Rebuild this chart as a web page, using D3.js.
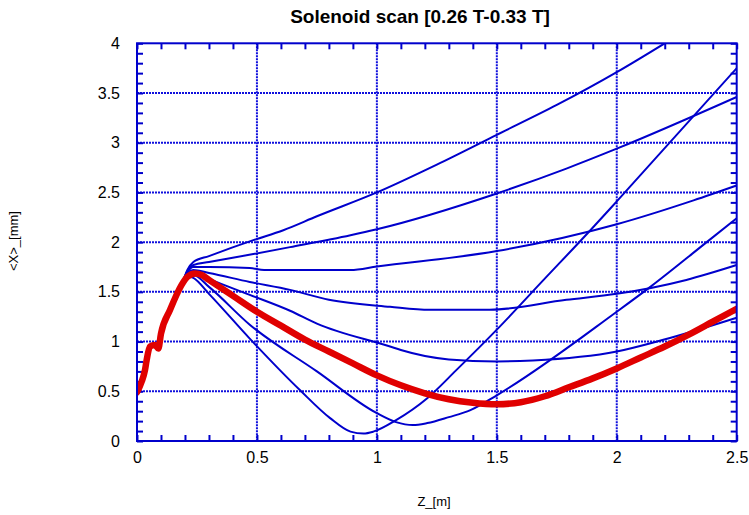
<!DOCTYPE html>
<html>
<head>
<meta charset="utf-8">
<script src="https://cdn.jsdelivr.net/npm/d3@7"></script>
<style>
  html, body { margin: 0; padding: 0; background: #ffffff; }
  svg { display: block; font-family: "Liberation Sans", Arial, sans-serif; }
</style>
</head>
<body>
<div id="chart"></div>
<script>
// --- Data: [z (m), <X> (mm)] ---
const xTicks = [0, 0.5, 1, 1.5, 2, 2.5];
const xTickLabels = ["0", "0.5", "1", "1.5", "2", "2.5"];
const yTicks = [0, 0.5, 1, 1.5, 2, 2.5, 3, 3.5, 4];
const yTickLabels = ["0", "0.5", "1", "1.5", "2", "2.5", "3", "3.5", "4"];

// common rise, shared by every run until the fan-out near z = 0.2
const rise = [[0, 0.49], [0.02, 0.6], [0.033, 0.71], [0.04, 0.81], [0.054, 0.95], [0.075, 0.965],
  [0.089, 0.93], [0.1, 1.08], [0.138, 1.32], [0.186, 1.57]];

const scan1 = [[0.21, 1.72], [0.235, 1.8], [0.3, 1.86], [0.485, 2.02], [0.61, 2.12], [0.75, 2.26],
  [1.0, 2.5], [1.25, 2.78], [1.5, 3.08], [1.75, 3.38], [2.0, 3.71], [2.2, 4.0], [2.3, 4.15]];
const scan2 = [[0.21, 1.71], [0.235, 1.77], [0.3, 1.8], [0.485, 1.88], [0.638, 1.95], [0.89, 2.07],
  [1.0, 2.13], [1.5, 2.49], [1.79, 2.74], [2.0, 2.94], [2.5, 3.46]];
const scan3 = [[0.21, 1.7], [0.235, 1.75], [0.3, 1.75], [0.47, 1.74], [0.53, 1.72], [0.89, 1.72],
  [1.0, 1.755], [1.5, 1.91], [2.0, 2.18], [2.32, 2.42], [2.5, 2.57]];
const scan4 = [[0.21, 1.69], [0.235, 1.72], [0.3, 1.69], [0.47, 1.6], [0.638, 1.52], [0.8, 1.42],
  [1.055, 1.35], [1.22, 1.32], [1.47, 1.32], [1.79, 1.42], [2.0, 1.48], [2.29, 1.62], [2.5, 1.77]];
const scan5 = [[0.21, 1.68], [0.235, 1.7], [0.3, 1.63], [0.47, 1.47], [0.638, 1.31], [0.75, 1.18],
  [1.055, 0.95], [1.1, 0.915], [1.3, 0.82], [1.5, 0.8], [1.65, 0.81], [2.0, 0.9], [2.19, 1.015], [2.5, 1.24]];
const scan6 = [[0.21, 1.67], [0.235, 1.67], [0.3, 1.55], [0.47, 1.17], [0.75, 0.7], [1.0, 0.28],
  [1.08, 0.19], [1.15, 0.16], [1.21, 0.18], [1.3, 0.24], [1.39, 0.31], [1.5, 0.46], [2.0, 1.3],
  [2.14, 1.55], [2.375, 2.0], [2.5, 2.24]];
const scan7 = [[0.21, 1.66], [0.235, 1.64], [0.3, 1.48], [0.47, 1.03], [0.68, 0.51], [0.805, 0.23],
  [0.89, 0.094], [0.944, 0.075], [0.985, 0.094], [1.08, 0.21], [1.21, 0.43], [1.33, 0.71], [1.5, 1.12],
  [1.695, 1.62], [1.89, 2.12], [2.0, 2.41], [2.5, 3.75]];

const measured = [...rise, [0.21, 1.65], [0.242, 1.685], [0.27, 1.67], [0.3, 1.62], [0.4, 1.46],
  [0.5, 1.3], [0.6, 1.16], [0.7, 1.02], [0.8, 0.9], [0.9, 0.78], [1.0, 0.66], [1.1, 0.56], [1.2, 0.48],
  [1.3, 0.42], [1.4, 0.385], [1.5, 0.37], [1.6, 0.39], [1.7, 0.45], [1.8, 0.54], [1.9, 0.63], [2.0, 0.73],
  [2.1, 0.84], [2.2, 0.95], [2.3, 1.07], [2.4, 1.2], [2.5, 1.33]];

const scans = [scan1, scan2, scan3, scan4, scan5, scan6, scan7].map(s => [...rise, ...s]);

// --- Layout ---
const W = 749, H = 515;
const pLeft = 137, pRight = 736.7, pTop = 43.3, pBottom = 441;
const blue = "#0000cc";

const x = d3.scaleLinear().domain([0, 2.5]).range([pLeft, pRight]);
const y = d3.scaleLinear().domain([0, 4]).range([pBottom, pTop]);

const svg = d3.select("#chart").append("svg")
  .attr("width", W)
  .attr("height", H);

svg.append("defs").append("clipPath").attr("id", "plot")
  .append("rect")
  .attr("x", pLeft).attr("y", pTop)
  .attr("width", pRight - pLeft).attr("height", pBottom - pTop);

// --- Dotted grid ---
svg.append("g").selectAll("line")
  .data(xTicks.slice(1, -1))
  .join("line")
  .attr("x1", d => x(d)).attr("x2", d => x(d))
  .attr("y1", pTop).attr("y2", pBottom)
  .attr("stroke", "#1010dd").attr("stroke-width", 2)
  .attr("stroke-dasharray", "2,1");

svg.append("g").selectAll("line")
  .data(yTicks.slice(1, -1))
  .join("line")
  .attr("x1", pLeft).attr("x2", pRight)
  .attr("y1", d => y(d)).attr("y2", d => y(d))
  .attr("stroke", "#1010dd").attr("stroke-width", 2)
  .attr("stroke-dasharray", "2,1");

// --- Minor ticks on all four sides, pointing inwards ---
const minorX = x.ticks(25), minorY = y.ticks(40);
const tickAxes = [
  [d3.axisBottom(x).tickValues(minorX).tickSize(-6), `translate(0,${pBottom})`],
  [d3.axisTop(x).tickValues(minorX).tickSize(-6), `translate(0,${pTop})`],
  [d3.axisLeft(y).tickValues(minorY).tickSize(-6), `translate(${pLeft},0)`],
  [d3.axisRight(y).tickValues(minorY).tickSize(-6), `translate(${pRight},0)`]
];
tickAxes.forEach(([ax, tr]) => {
  const g = svg.append("g").attr("transform", tr)
    .call(ax.tickFormat(() => ""));
  g.select(".domain").remove();
  g.selectAll("line").attr("stroke", blue).attr("stroke-width", 2);
});

// --- Curves ---
const line = d3.line()
  .x(d => x(d[0]))
  .y(d => y(d[1]))
  .curve(d3.curveMonotoneX);

const plot = svg.append("g").attr("clip-path", "url(#plot)");

plot.selectAll(".scan")
  .data(scans)
  .join("path")
  .attr("class", "scan")
  .attr("d", line)
  .attr("fill", "none")
  .attr("stroke", blue)
  .attr("stroke-width", 2);

plot.append("path")
  .datum(measured)
  .attr("d", line)
  .attr("fill", "none")
  .attr("stroke", "#e00000")
  .attr("stroke-width", 6.5)
  .attr("stroke-linecap", "round")
  .attr("stroke-linejoin", "round");

// --- Frame ---
svg.append("rect")
  .attr("x", pLeft).attr("y", pTop)
  .attr("width", pRight - pLeft).attr("height", pBottom - pTop)
  .attr("fill", "none")
  .attr("stroke", blue)
  .attr("stroke-width", 2);

// --- Tick labels ---
const xAxis = svg.append("g")
  .attr("transform", `translate(0,${pBottom})`)
  .call(d3.axisBottom(x).tickValues(xTicks).tickSize(0).tickPadding(11)
    .tickFormat((d, i) => xTickLabels[i]));
xAxis.select(".domain").remove();
xAxis.selectAll("text")
  .style("font-family", "'Liberation Sans', Arial, sans-serif")
  .style("font-size", "16px")
  .attr("fill", "#000");

const yAxis = svg.append("g")
  .attr("transform", `translate(${pLeft},0)`)
  .call(d3.axisLeft(y).tickValues(yTicks).tickSize(0).tickPadding(17)
    .tickFormat((d, i) => yTickLabels[i]));
yAxis.select(".domain").remove();
yAxis.selectAll("text")
  .style("font-family", "'Liberation Sans', Arial, sans-serif")
  .style("font-size", "16px")
  .attr("fill", "#000");

// --- Titles ---
svg.append("text")
  .text("Solenoid scan [0.26 T-0.33 T]")
  .attr("x", 420)
  .attr("y", 23)
  .attr("text-anchor", "middle")
  .style("font-size", "19px")
  .style("font-weight", "bold")
  .attr("fill", "#000");

svg.append("text")
  .text("Z_[m]")
  .attr("x", 434)
  .attr("y", 506)
  .attr("text-anchor", "middle")
  .style("font-size", "13px")
  .attr("fill", "#000");

svg.append("text")
  .text("<X>_[mm]")
  .attr("transform", "translate(18,241) rotate(-90)")
  .attr("text-anchor", "middle")
  .style("font-size", "13px")
  .attr("fill", "#000");
</script>
</body>
</html>
